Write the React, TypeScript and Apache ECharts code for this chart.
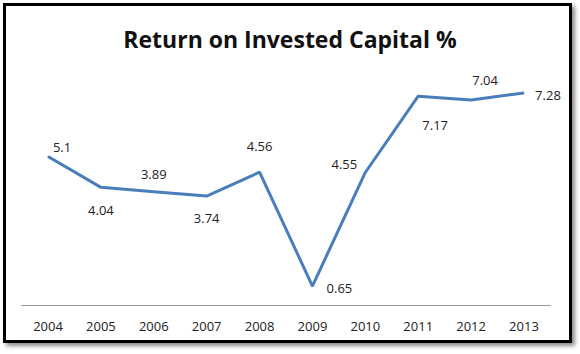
import React, { useEffect, useRef } from "react";
import * as echarts from "echarts";

const years = ["2004", "2005", "2006", "2007", "2008", "2009", "2010", "2011", "2012", "2013"];
const roic = [5.1, 4.04, 3.89, 3.74, 4.56, 0.65, 4.55, 7.17, 7.04, 7.28];
const titleText = "Return on Invested Capital %";

// label placement offsets (px) relative to each point
const labelOffsets: [number, number][] = [
  [14, -9], [0, 23], [0, -18], [0, 22], [0, -26],
  [27, 2], [-21, -8], [17, 29], [14, -20], [24, 2],
];

export default function App() {
  const ref = useRef<HTMLDivElement>(null);
  useEffect(() => {
    document.body.style.margin = "0";
    const chart = echarts.init(ref.current!, null, { renderer: "svg" });
    chart.setOption({
      animation: false,
      backgroundColor: "#ffffff",
      graphic: [
        {
          type: "rect",
          z: -10,
          shape: { x: 4.5, y: 4.5, width: 566, height: 337 },
          style: {
            fill: "#ffffff",
            stroke: "#000000",
            lineWidth: 3,
            shadowBlur: 4,
            shadowOffsetX: 3,
            shadowOffsetY: 3,
            shadowColor: "rgba(0,0,0,0.45)",
          },
        },
      ],
      title: {
        text: titleText,
        left: "center",
        top: 22,
        textStyle: {
          fontFamily: "Open Sans",
          fontWeight: "bold",
          fontSize: 23,
          color: "#111111",
        },
      },
      grid: { left: 21.6, right: 29.6, top: 72, bottom: 49 },
      xAxis: {
        type: "category",
        data: years,
        boundaryGap: true,
        axisLine: { lineStyle: { color: "#9a9a9a", width: 1 } },
        axisTick: { show: false },
        axisLabel: { color: "#222222", fontSize: 13, fontFamily: "Open Sans", margin: 14 },
      },
      yAxis: {
        type: "value",
        min: 0,
        max: 8,
        show: false,
        splitLine: { show: false },
      },
      series: [
        {
          type: "line",
          data: roic.map((v, i) => ({
            value: v,
            label: { offset: labelOffsets[i] },
          })),
          symbol: "circle",
          symbolSize: 1,
          itemStyle: { color: "#4A7EBB" },
          lineStyle: { color: "#4A7EBB", width: 3 },
          label: {
            show: true,
            position: "inside",
            align: "center",
            verticalAlign: "middle",
            color: "#222222",
            fontSize: 13,
            fontFamily: "Open Sans",
          },
        },
      ],
    });
    return () => chart.dispose();
  }, []);
  return <div ref={ref} style={{ width: 580, height: 354 }} />;
}
